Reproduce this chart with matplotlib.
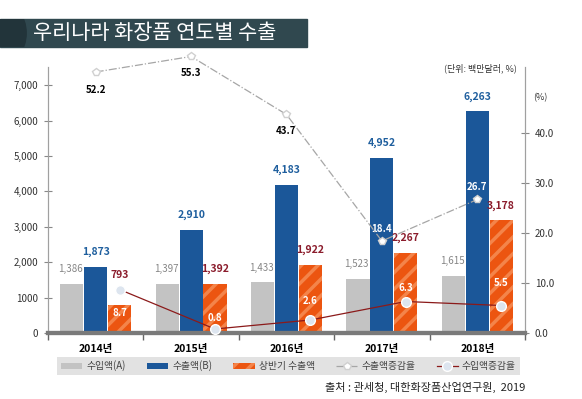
import numpy as np
import matplotlib
matplotlib.use('Agg')
from matplotlib import pyplot as plt
from matplotlib.patches import Rectangle, Ellipse

plt.rcParams['font.family'] = ['Noto Sans CJK KR', 'DejaVu Sans']
plt.rcParams['hatch.linewidth'] = 2.5

# data
years = ['2014년', '2015년', '2016년', '2017년', '2018년']
imports = [1386, 1397, 1433, 1523, 1615]
exports = [1873, 2910, 4183, 4952, 6263]
half_exports = [793, 1392, 1922, 2267, 3178]
export_growth = [52.2, 55.3, 43.7, 18.4, 26.7]
import_growth = [8.7, 0.8, 2.6, 6.3, 5.5]
left_ticks = [0, 1000, 2000, 3000, 4000, 5000, 6000, 7000]
left_ticklabels = ['0', '1000', '2,000', '3,000', '4,000', '5,000', '6,000', '7,000']
right_ticks = [0, 10, 20, 30, 40]

GRAY = '#c3c3c3'
BLUE = '#1b5799'
ORANGE = '#ec5510'
DARKRED = '#8b1c2c'
W = 0.25

# label offsets (points)
up_off = [-13, -12, -12, 9, 9]
low_off = [-17, 8, 14, 10, 16]
half_off = [18, 7, 7, 7, 7]

fig = plt.figure(figsize=(5.82, 3.99), dpi=100)
ax = fig.add_axes([0.0825, 0.1654, 0.8195, 0.6667])
ax2 = ax.twinx()

x = np.arange(len(years))
b1 = ax.bar(x - W, imports, W * 0.97, color=GRAY, label='수입액(A)', zorder=2)
b2 = ax.bar(x, exports, W * 0.97, color=BLUE, label='수출액(B)', zorder=2)
b3 = ax.bar(x + W, half_exports, W * 0.97, color=ORANGE, edgecolor='#f4844a',
            linewidth=0, hatch='//', label='상반기 수출액', zorder=2)

for xi, v in zip(x, imports):
    ax.annotate(f'{v:,}', (xi - W, v), xytext=(-1, 7), textcoords='offset points',
                ha='center', va='bottom', fontsize=7, color='#858585')
for xi, v in zip(x, exports):
    ax.annotate(f'{v:,}', (xi, v), xytext=(0, 7), textcoords='offset points',
                ha='center', va='bottom', fontsize=7.5, color='#1f5f9e', fontweight='bold')
for xi, v, o in zip(x, half_exports, half_off):
    ax.annotate(f'{v:,}', (xi + W, v), xytext=(0, o), textcoords='offset points',
                ha='center', va='bottom', fontsize=7.5, color=DARKRED, fontweight='bold')

l1, = ax2.plot(x, export_growth, color='#a6a6a6', lw=0.9, ls='-.', marker='p',
               ms=6, mfc='white', mec='#d0d0d0', label='수출액증감율', clip_on=False, zorder=4)
l2, = ax2.plot(x + W, import_growth, color='#8b1a1a', lw=0.9, marker='o',
               ms=7, mfc='#dde5ef', mec='white', label='수입액증감율', clip_on=False, zorder=4)

for i, v in enumerate(export_growth):
    ax2.annotate(f'{v}', (x[i], v), xytext=(0, up_off[i]), textcoords='offset points',
                 ha='center', va='center', fontsize=7, fontweight='bold',
                 color='black' if up_off[i] < 0 else 'white', annotation_clip=False)
for i, v in enumerate(import_growth):
    ax2.annotate(f'{v}', (x[i] + W, v), xytext=(0, low_off[i]), textcoords='offset points',
                 ha='center', va='center', fontsize=7, fontweight='bold', color='white',
                 annotation_clip=False)

ax.set_xlim(-0.5, len(years) - 0.5)
ax.set_ylim(0, 7514)
ax2.set_ylim(0, 53.2)
ax.set_zorder(1)
ax2.set_zorder(2)
ax.patch.set_visible(False)

ax.set_yticks(left_ticks)
ax.set_yticklabels(left_ticklabels)
ax2.set_yticks(right_ticks)
ax2.set_yticklabels([f'{t:.1f}' for t in right_ticks])
ax.set_xticks(x)
ax.set_xticklabels(years, fontsize=7.5, fontweight='bold')
ax.set_xticks(np.arange(len(years) + 1) - 0.5, minor=True)
ax.tick_params(axis='x', which='major', length=0, pad=8)
ax.tick_params(axis='x', which='minor', length=5, width=1, color='#666666')
ax.tick_params(axis='y', direction='inout', length=6, width=0.8, color='#888888',
               labelsize=7, labelcolor='#333333', pad=4)
ax2.tick_params(axis='y', direction='inout', length=6, width=0.8, color='#888888',
                labelsize=7, labelcolor='#333333', pad=4)

for a in (ax, ax2):
    a.spines['top'].set_visible(False)
    a.spines['left'].set_color('#a0a0a0')
    a.spines['right'].set_color('#a0a0a0')
    a.spines['bottom'].set_color('#7a7a7a')
    a.spines['bottom'].set_linewidth(3)

# title bar
bar_bg = Rectangle((0, 0.882), 0.5275, 0.07, transform=fig.transFigure,
                   color='#30484f', zorder=0)
fig.patches.append(bar_bg)
sw = Ellipse((0.0, 0.917), 0.09, 0.16, transform=fig.transFigure, color='#22343a', zorder=0)
sw.set_clip_path(bar_bg)
fig.patches.append(sw)
fig.text(0.057, 0.917, '우리나라 화장품 연도별 수출', color='white', fontsize=15,
         fontweight='medium', va='center', ha='left')

fig.text(0.888, 0.829, '(단위: 백만달러, %)', fontsize=6.5, color='#333333', ha='right', va='center')
fig.text(0.928, 0.756, '(%)', fontsize=6.5, color='#333333', ha='center', va='center')

leg = fig.legend(handles=[b1, b2, b3, l1, l2], loc='center', ncol=5, mode='expand',
                 bbox_to_anchor=(0.098, 0.0526, 0.795, 0.0602), fontsize=7,
                 frameon=True, fancybox=False, facecolor='#e2e2e2', edgecolor='none',
                 framealpha=1, handlelength=2.2, handletextpad=0.4, borderaxespad=0)
for t in leg.get_texts():
    t.set_color('#444444')

fig.text(0.903, 0.03, '출처 : 관세청, 대한화장품산업연구원,  2019', fontsize=8,
         color='#222222', ha='right', va='center')

fig.savefig('out.png', dpi=100)
